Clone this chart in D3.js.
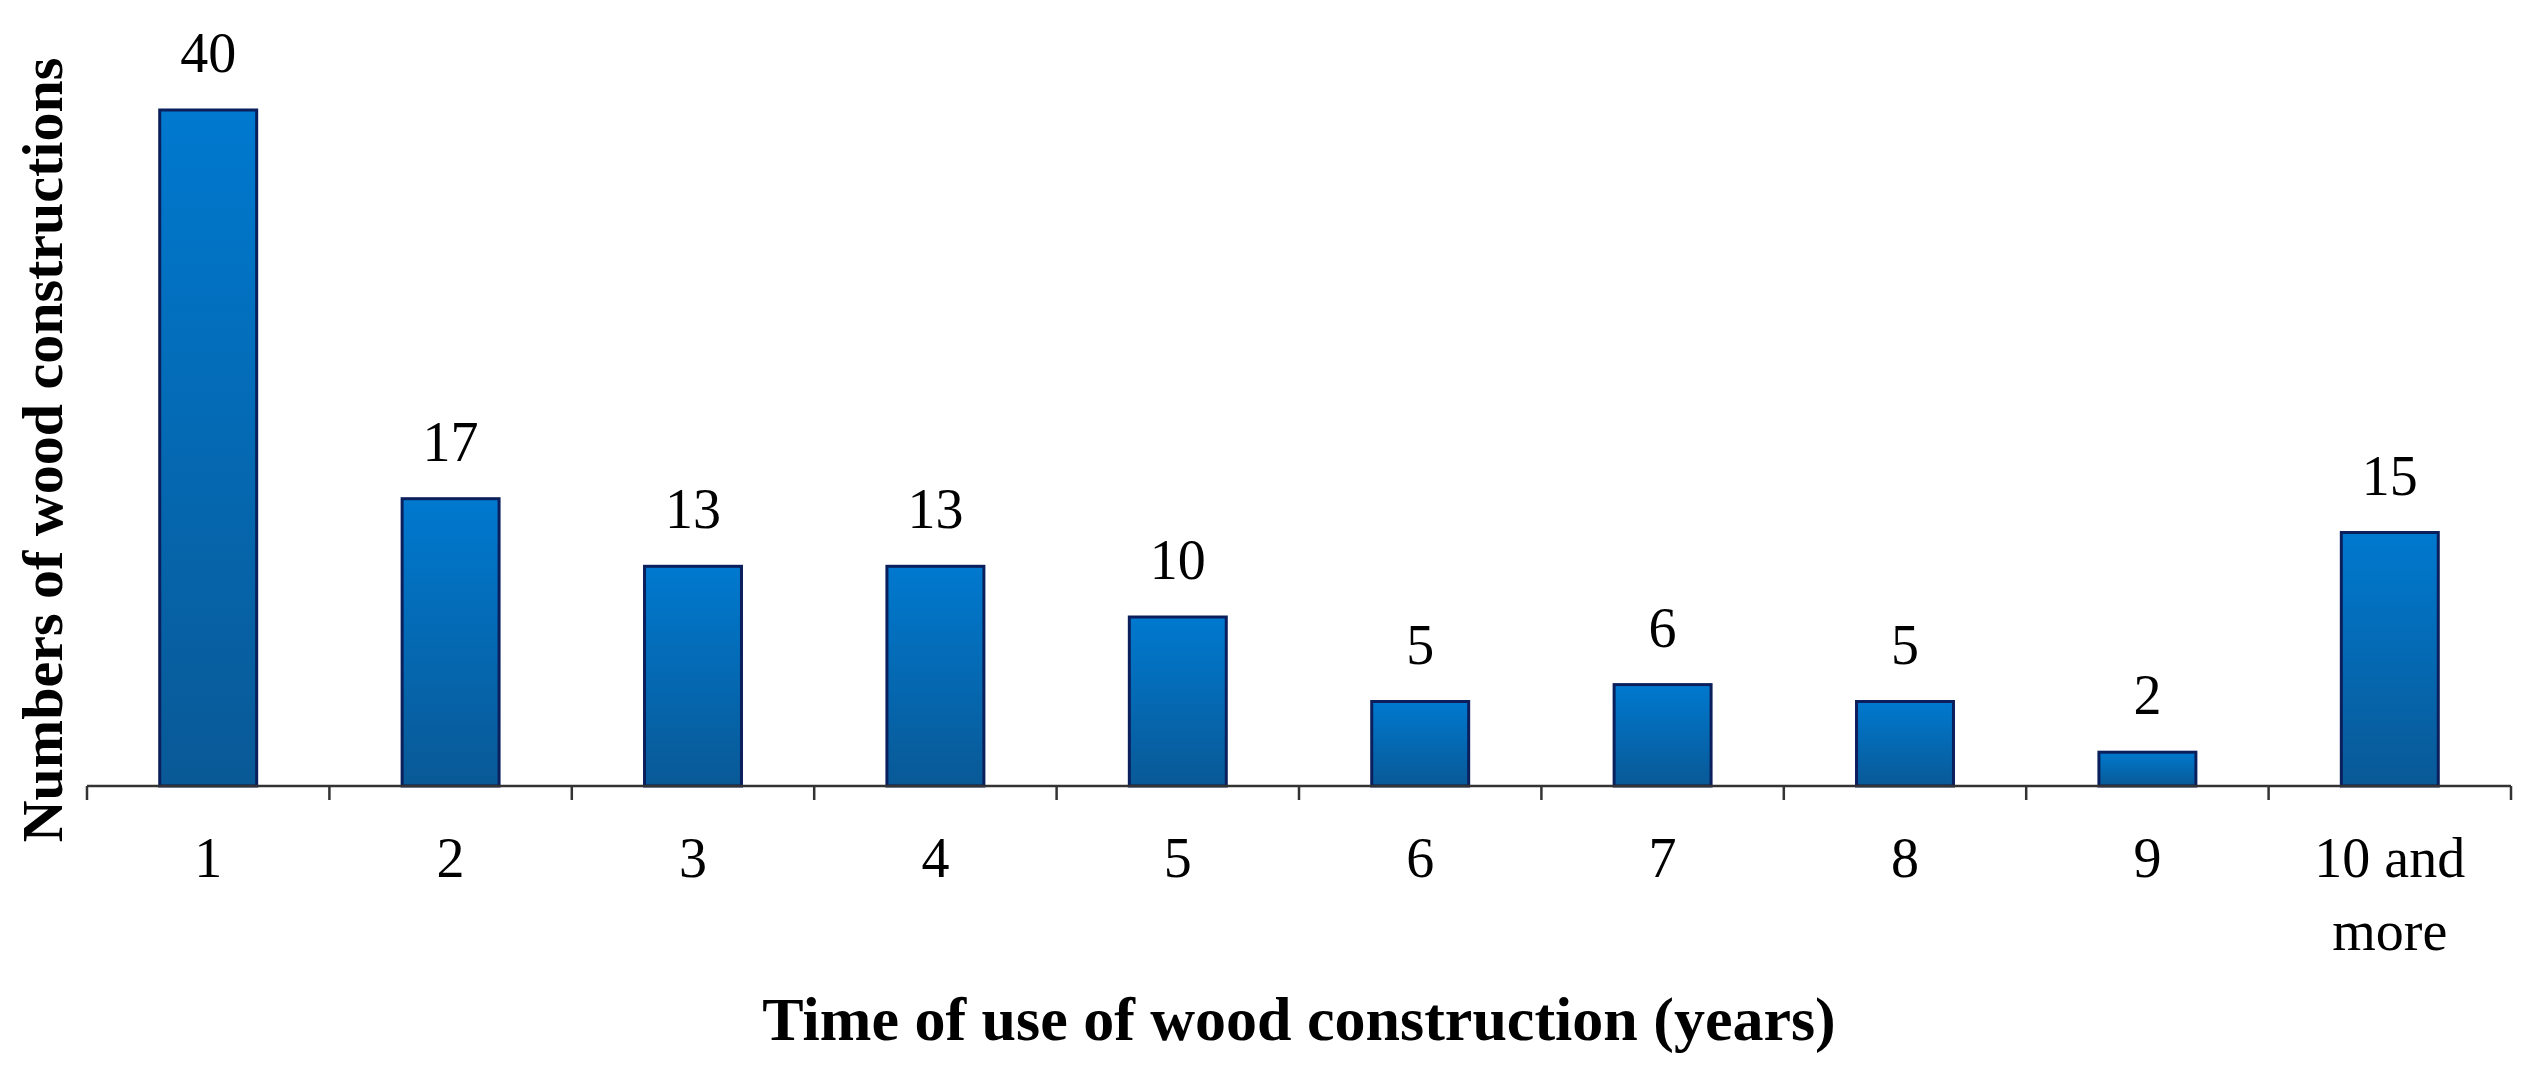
<!DOCTYPE html>
<html><head><meta charset="utf-8">
<script src="https://cdn.jsdelivr.net/npm/d3@7"></script>
<style>body{margin:0;background:#fff}</style></head>
<body><svg id="c" width="2537" height="1078"></svg>
<script>
const categories = ["1","2","3","4","5","6","7","8","9","10 and more"];
const values = [40,17,13,13,10,5,6,5,2,15];
const xTitle = "Time of use of wood construction (years)";
const yTitle = "Numbers of wood constructions";

const svg = d3.select("#c");
const m = {left:87, right:2511, top:110, bottom:786};
const x = d3.scaleBand().domain(categories).range([m.left, m.right]).paddingInner(0.6).paddingOuter(0.3);
const y = d3.scaleLinear().domain([0,40]).range([m.bottom, m.top]);

const defs = svg.append("defs");
const g = defs.append("linearGradient").attr("id","bg").attr("x1",0).attr("x2",0).attr("y1",0).attr("y2",1);
g.append("stop").attr("offset","0%").attr("stop-color","#0079cf");
g.append("stop").attr("offset","100%").attr("stop-color","#095996");

svg.selectAll("rect.bar").data(values).join("rect").attr("class","bar")
  .attr("x",(d,i)=>x(categories[i])).attr("width",x.bandwidth())
  .attr("y",d=>y(d)).attr("height",d=>y(0)-y(d))
  .attr("fill","url(#bg)").attr("stroke","#0a1f5c").attr("stroke-width",3);

svg.selectAll("text.val").data(values).join("text").attr("class","val")
  .attr("x",(d,i)=>x(categories[i])+x.bandwidth()/2).attr("y",d=>y(d)-38)
  .attr("text-anchor","middle").attr("font-family","Liberation Serif").attr("font-size",56)
  .text(d=>d);

const step = x.step();
const ax = svg.append("g");
ax.append("line").attr("x1",m.left).attr("x2",m.right).attr("y1",m.bottom).attr("y2",m.bottom).attr("stroke","#333").attr("stroke-width",2.5);
const bounds = categories.map(c=>x(c)-(step-x.bandwidth())/2).concat([m.right]);
ax.selectAll("line.t").data(bounds).join("line").attr("class","t")
  .attr("x1",d=>d).attr("x2",d=>d).attr("y1",m.bottom).attr("y2",m.bottom+14).attr("stroke","#333").attr("stroke-width",2.5);

categories.forEach(c=>{
  const t = svg.append("text").attr("x",x(c)+x.bandwidth()/2).attr("y",877)
    .attr("text-anchor","middle").attr("font-family","Liberation Serif").attr("font-size",56);
  const parts = c==="10 and more" ? ["10 and","more"] : [c];
  parts.forEach((p,i)=>t.append("tspan").attr("x",x(c)+x.bandwidth()/2).attr("dy",i?73:0).text(p));
});

svg.append("text").attr("x",(m.left+m.right)/2).attr("y",1040).attr("text-anchor","middle")
  .attr("font-family","Liberation Serif").attr("font-weight","bold").attr("font-size",62).text(xTitle);
svg.append("text").attr("transform","translate(62,450) rotate(-90)").attr("text-anchor","middle")
  .attr("font-family","Liberation Serif").attr("font-weight","bold").attr("font-size",58).text(yTitle);
</script></body></html>
